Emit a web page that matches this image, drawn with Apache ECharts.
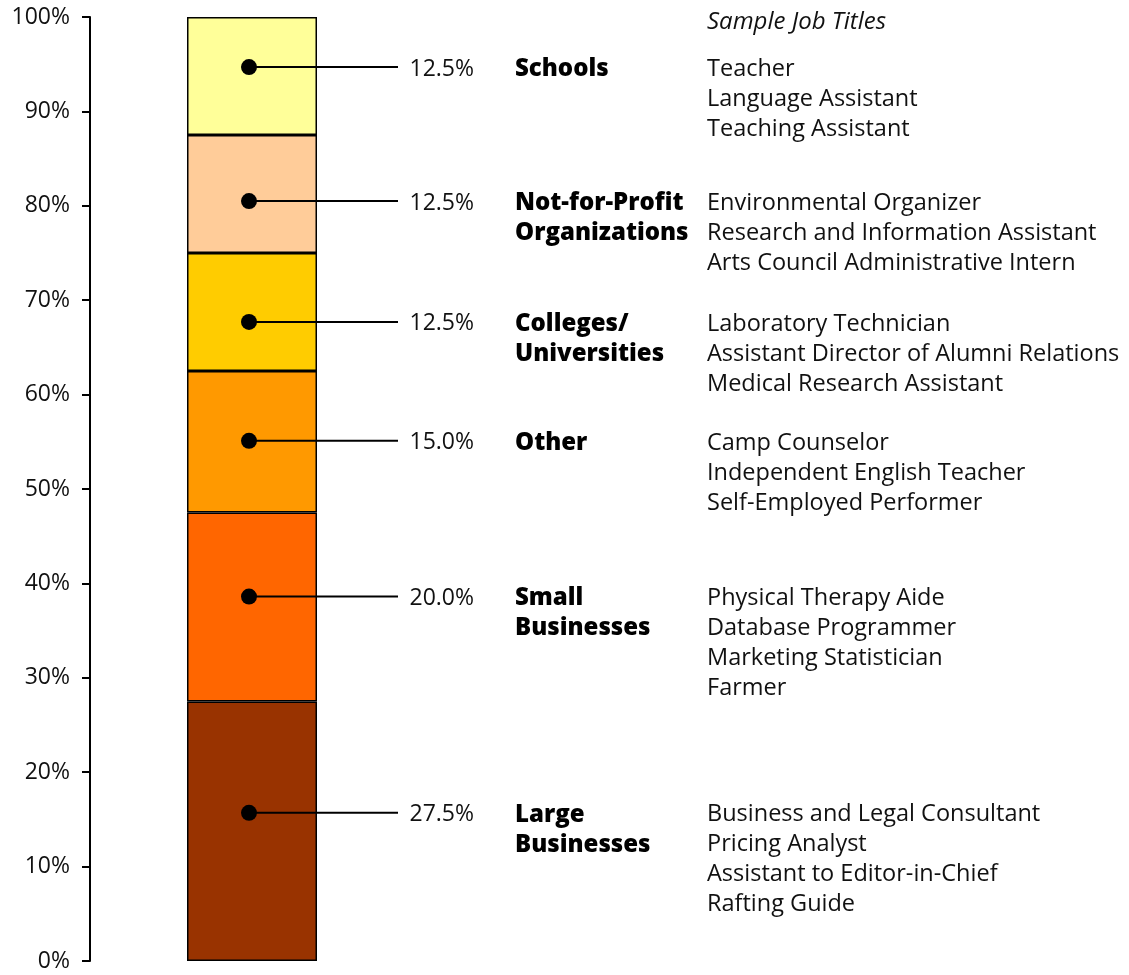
<!DOCTYPE html>
<html>
<head>
<meta charset="utf-8">
<script src="https://cdn.jsdelivr.net/npm/echarts@6/dist/echarts.min.js"></script>
<style>html,body{margin:0;padding:0;background:#fff}#chart{width:1129px;height:975px}</style>
</head>
<body>
<div id="chart"></div>
<script>
// Data (bottom to top)
var categories = ['Large\nBusinesses', 'Small\nBusinesses', 'Other', 'Colleges/\nUniversities', 'Not-for-Profit\nOrganizations', 'Schools'];
var shares = [27.5, 20.0, 15.0, 12.5, 12.5, 12.5];
var labelPositions = [15.7, 38.6, 55.1, 67.7, 80.5, 94.7];
var jobTitles = [
  ['Business and Legal Consultant', 'Pricing Analyst', 'Assistant to Editor-in-Chief', 'Rafting Guide'],
  ['Physical Therapy Aide', 'Database Programmer', 'Marketing Statistician', 'Farmer'],
  ['Camp Counselor', 'Independent English Teacher', 'Self-Employed Performer'],
  ['Laboratory Technician', 'Assistant Director of Alumni Relations', 'Medical Research Assistant'],
  ['Environmental Organizer', 'Research and Information Assistant', 'Arts Council Administrative Intern'],
  ['Teacher', 'Language Assistant', 'Teaching Assistant']
];
var colors = ['#993300', '#FF6600', '#FF9900', '#FFCC00', '#FFCC99', '#FFFF99'];
var headerText = 'Sample Job Titles';
var yTicks = [0, 10, 20, 30, 40, 50, 60, 70, 80, 90, 100];

var FONT = '"Open Sans", sans-serif';
var series = shares.map(function (v, i) {
  return {
    type: 'bar', stack: 'total', name: categories[i], data: [v], barWidth: 130,
    itemStyle: { color: colors[i], borderColor: '#000', borderWidth: 1.5 },
    emphasis: { disabled: true }, z: 2
  };
});

series.push({
  type: 'custom',
  data: labelPositions.map(function (p, i) { return [0, p, i]; }),
  encode: { x: 0, y: 1 },
  z: 5,
  clip: false,
  renderItem: function (params, api) {
    var i = api.value(2);
    var pt = api.coord([0, api.value(1)]);
    var x0 = pt[0] - 3, y0 = pt[1];
    var ty = y0 + 2;
    var children = [];
    children.push({ type: 'line', shape: { x1: x0, y1: y0, x2: x0 + 149, y2: y0 }, style: { stroke: '#000', lineWidth: 2 } });
    children.push({ type: 'circle', shape: { cx: x0, cy: y0, r: 8 }, style: { fill: '#000' } });
    children.push({ type: 'text', x: x0 + 225, y: ty, style: { text: shares[i].toFixed(1) + '%', align: 'right', verticalAlign: 'middle', font: '23px ' + FONT, fill: '#111' } });
    var lines = categories[i].split('\n');
    lines.forEach(function (t, k) {
      children.push({ type: 'text', x: x0 + 266, y: ty + k * 30, style: { text: t, align: 'left', verticalAlign: 'middle', font: '800 24px "Open Sans", sans-serif', fill: '#000' } });
    });
    jobTitles[i].forEach(function (t, k) {
      children.push({ type: 'text', x: x0 + 458, y: ty + k * 30, style: { text: t, align: 'left', verticalAlign: 'middle', font: '23.5px ' + FONT, fill: '#111' } });
    });
    return { type: 'group', children: children };
  }
});

var chart = echarts.init(document.getElementById('chart'));
chart.setOption({
  animation: false,
  backgroundColor: '#fff',
  grid: { left: 90, top: 17, bottom: 14, width: 324 },
  xAxis: { type: 'category', data: [''], show: false },
  yAxis: {
    type: 'value', min: 0, max: 100, interval: 10,
    axisLine: { show: true, lineStyle: { color: '#000', width: 2 } },
    axisTick: { show: true, length: 8, lineStyle: { color: '#000', width: 2 } },
    splitLine: { show: false },
    axisLabel: { formatter: function (v) { return v + '%'; }, fontFamily: FONT, fontSize: 23, color: '#111', margin: 20 }
  },
  graphic: [{ type: 'text', left: 707, top: 10, style: { text: headerText, font: 'italic 24px ' + FONT, fill: '#111' } }],
  series: series
});
</script>
</body>
</html>
